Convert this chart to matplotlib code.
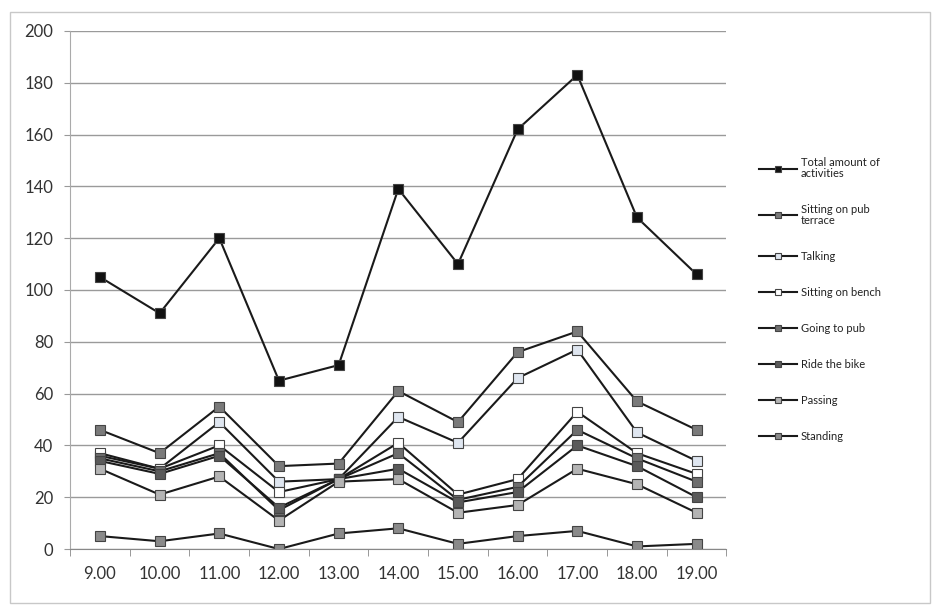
import numpy as np
import matplotlib.pyplot as plt
from matplotlib.patches import Rectangle

# Hours of observation
hours = ["9.00", "10.00", "11.00", "12.00", "13.00", "14.00",
         "15.00", "16.00", "17.00", "18.00", "19.00"]

total = [105, 91, 120, 65, 71, 139, 110, 162, 183, 128, 106]
pub_terrace = [46, 37, 55, 32, 33, 61, 49, 76, 84, 57, 46]
talking = [36, 31, 49, 26, 27, 51, 41, 66, 77, 45, 34]
bench = [37, 31, 40, 22, 27, 41, 21, 27, 53, 37, 29]
going_pub = [35, 30, 37, 15, 27, 37, 19, 24, 46, 35, 26]
ride_bike = [34, 29, 36, 16, 27, 31, 18, 22, 40, 32, 20]
passing = [31, 21, 28, 11, 26, 27, 14, 17, 31, 25, 14]
standing = [5, 3, 6, 0, 6, 8, 2, 5, 7, 1, 2]

series = [
    ("Total amount of\nactivities", total, "#111111"),
    ("Sitting on pub\nterrace", pub_terrace, "#7a7a7a"),
    ("Talking", talking, "#dfe6f0"),
    ("Sitting on bench", bench, "#ffffff"),
    ("Going to pub", going_pub, "#6e6e6e"),
    ("Ride the bike", ride_bike, "#5a5a5a"),
    ("Passing", passing, "#b4b4b4"),
    ("Standing", standing, "#8a8a8a"),
]

plt.rcParams['font.family'] = ['Lato', 'DejaVu Sans']

fig = plt.figure(figsize=(9.35, 6.06), dpi=100)
ax = fig.add_axes([0.075, 0.094, 0.702, 0.855])

x = np.arange(len(hours))
for label, vals, fc in series:
    ax.plot(x, vals, color="#1a1a1a", linewidth=1.5, marker="s",
            markersize=7, markerfacecolor=fc, markeredgecolor="#444444",
            markeredgewidth=0.8, label=label)

ax.set_ylim(0, 200)
ax.set_yticks(range(0, 201, 20))
ax.set_xlim(-0.5, len(hours) - 0.5)
ax.set_xticks(x)
ax.set_xticklabels(hours)
ax.set_xticks(np.arange(-0.5, len(hours)), minor=True)
ax.tick_params(axis="x", which="major", length=0, pad=12, labelsize=12, colors="#333333")
ax.tick_params(axis="x", which="minor", length=5, color="#888888", direction="out")
ax.tick_params(axis="y", length=4, color="#999999", labelsize=12, colors="#333333", pad=8)
ax.yaxis.grid(True, color="#9a9a9a", linewidth=1)
ax.set_axisbelow(True)
for side in ["top", "right"]:
    ax.spines[side].set_visible(False)
ax.spines["left"].set_color("#aaaaaa")
ax.spines["bottom"].set_color("#888888")

leg = ax.legend(loc="upper left", bbox_to_anchor=(1.035, 0.775), frameon=False,
                fontsize=8, handlelength=3.4, labelspacing=2.25, markerscale=0.6,
                handletextpad=0.3)
for t in leg.get_texts():
    t.set_color("#222222")
    t.set_linespacing(0.95)

fig.patches.append(Rectangle((0.011, 0.005), 0.984, 0.975, transform=fig.transFigure,
                             fill=False, edgecolor="#c8c8c8", linewidth=1))

plt.savefig("out.png", dpi=100)
